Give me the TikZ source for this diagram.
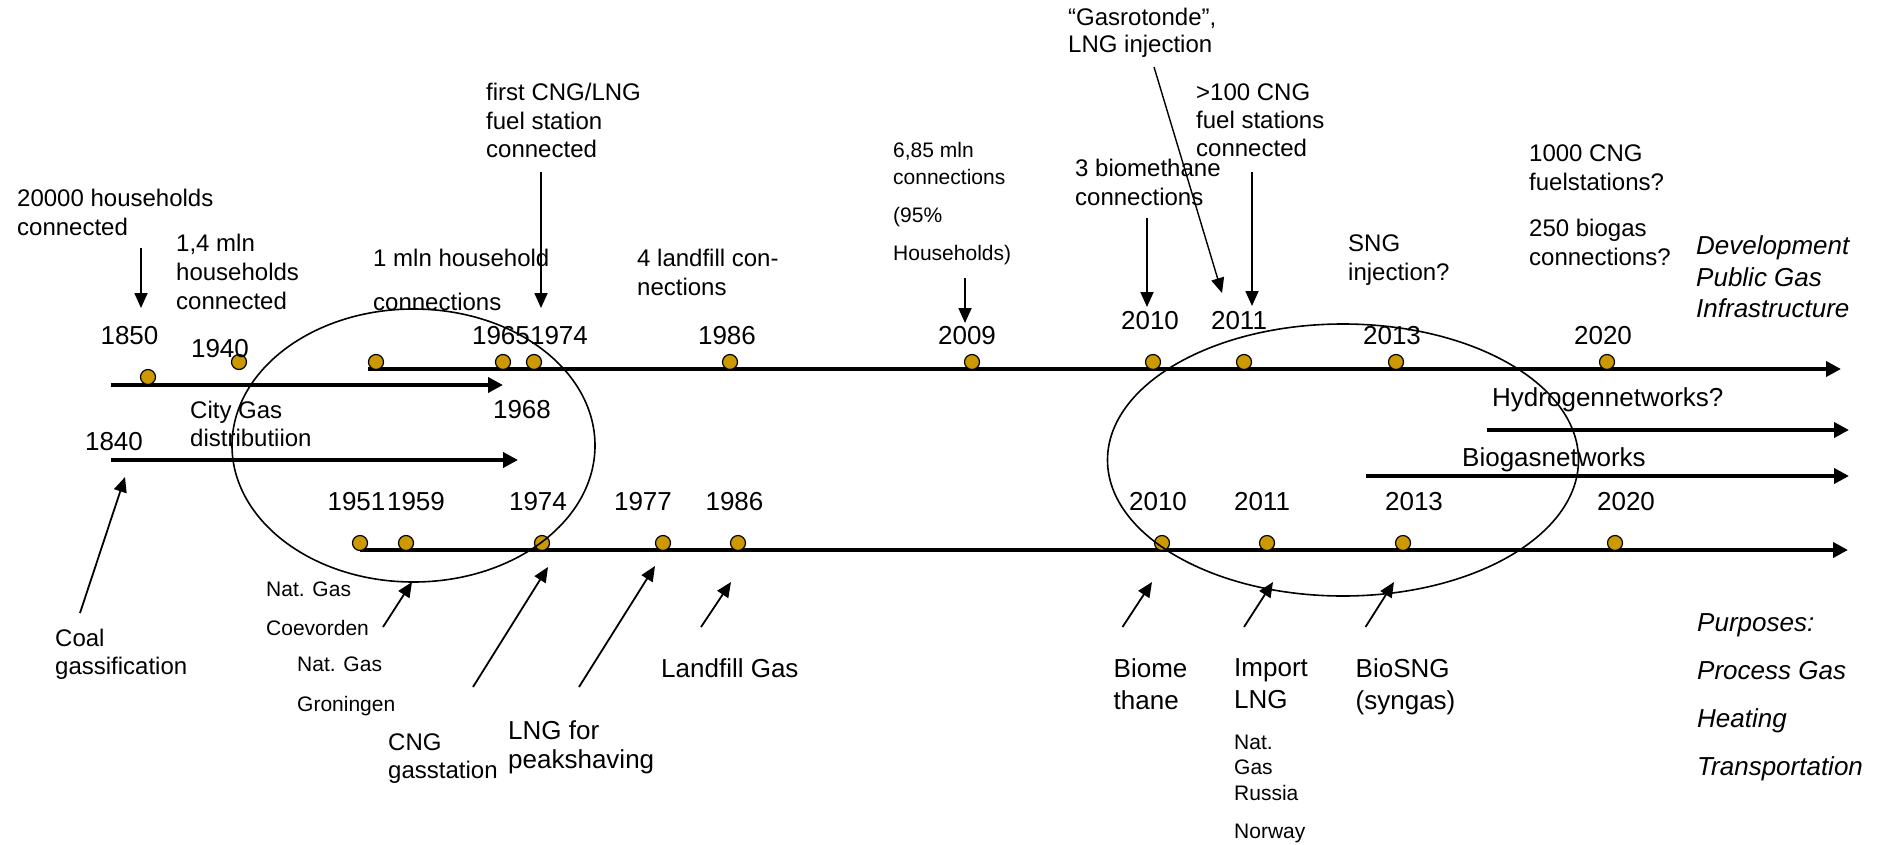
\documentclass[tikz,border=0pt]{standalone}
\usepackage{fontspec}
\setmainfont{Liberation Sans}
\usetikzlibrary{arrows.meta}
\definecolor{dotgold}{RGB}{204,153,0}
\begin{document}
\begin{tikzpicture}[x=1pt,y=-1pt,
  timeline/.style={line width=4pt,-{Triangle[length=15pt,width=15pt]}},
  pointer/.style={line width=1.8pt,-{Triangle[length=15pt,width=13pt]}},
  thinpointer/.style={line width=1.4pt,-{Triangle[length=15pt,width=13pt]}},
  yeardot/.style={circle,draw=black,line width=1.2pt,fill=dotgold,minimum size=15pt,inner sep=0pt},
  yr/.style={font=\fontsize{26}{31}\selectfont,inner sep=0pt},
  lbl/.style={inner sep=0pt,align=left,anchor=north west},
  fA/.style={font=\fontsize{24}{29}\selectfont},
  fB/.style={font=\fontsize{26}{32}\selectfont},
  fS/.style={font=\fontsize{21}{27}\selectfont},
  ring/.style={line width=1.6pt}]
\fill[white] (0,0) rectangle (1880,844);

% ---- timeline lines ----
\coordinate (topS) at (368,369);   \coordinate (topE) at (1841,369);
\coordinate (cityS) at (111,385);  \coordinate (cityE) at (503,385);
\coordinate (coalS) at (111,460);  \coordinate (coalE) at (518,460);
\coordinate (botS) at (360,550);   \coordinate (botE) at (1848,550);
\coordinate (hydS) at (1487,430);  \coordinate (hydE) at (1849,430);
\coordinate (bioS) at (1366,476);  \coordinate (bioE) at (1849,476);
\draw[timeline] (topS) -- (topE);
\draw[timeline] (cityS) -- (cityE);
\draw[timeline] (coalS) -- (coalE);
\draw[timeline] (botS) -- (botE);
\draw[timeline] (hydS) -- (hydE);
\draw[timeline] (bioS) -- (bioE);

% ---- dots ----
\node[yeardot] (d1850) at (148,377) {};
\node[yeardot] (d1940) at (239,362) {};
\node[yeardot] (dtop0) at (376,362) {};
\node[yeardot] (d1965) at (503,362) {};
\node[yeardot] (d1974a) at (534,362) {};
\node[yeardot] (d1986a) at (730,362) {};
\node[yeardot] (d2009) at (972,362) {};
\node[yeardot] (d2010a) at (1153,362) {};
\node[yeardot] (d2011a) at (1244,362) {};
\node[yeardot] (d2013a) at (1396,362) {};
\node[yeardot] (d2020a) at (1607,362) {};
\node[yeardot] (d1951) at (360,543) {};
\node[yeardot] (d1959) at (406,543) {};
\node[yeardot] (d1974b) at (542,543) {};
\node[yeardot] (d1977) at (663,543) {};
\node[yeardot] (d1986b) at (738,543) {};
\node[yeardot] (d2010b) at (1162,543) {};
\node[yeardot] (d2011b) at (1267,543) {};
\node[yeardot] (d2013b) at (1403,543) {};
\node[yeardot] (d2020b) at (1615,543) {};

% ---- years ----
\node[yr] (y1850) at (129.5,336) {1850};
\node[yr] (y1940) at (220,349) {1940};
\node[yr] (y1965) at (501,336) {1965};
\node[yr] (y1974a) at (559,336) {1974};
\node[yr] (y1986a) at (727,336) {1986};
\node[yr] (y2009) at (967,336) {2009};
\node[yr] (y2010a) at (1150,321) {2010};
\node[yr] (y2011a) at (1239,321) {2011};
\node[yr] (y2013a) at (1392,336) {2013};
\node[yr] (y2020a) at (1603,336) {2020};
\node[yr] (y1968) at (522,410) {1968};
\node[yr] (y1840) at (114,442) {1840};
\node[yr] (y1951) at (356.5,502) {1951};
\node[yr] (y1959) at (416,502) {1959};
\node[yr] (y1974b) at (538,502) {1974};
\node[yr] (y1977) at (643,502) {1977};
\node[yr] (y1986b) at (734.5,502) {1986};
\node[yr] (y2010b) at (1158,502) {2010};
\node[yr] (y2011b) at (1262,502) {2011};
\node[yr] (y2013b) at (1414,502) {2013};
\node[yr] (y2020b) at (1626,502) {2020};

% ---- upper labels ----
\node[lbl,fA] (l20000) at (17,189.4) {20000 households\\connected};
\node[lbl,fA] (l14) at (176,234.4) {1,4 mln\\households\\connected};
\node[lbl,font=\fontsize{24}{44}\selectfont] (l1mln) at (373,249.4) {1 mln household\\connections};
\node[lbl,font=\fontsize{24}{28.5}\selectfont] (lfirst) at (486,83.4) {first CNG/LNG\\fuel station\\connected};
\node[lbl,fA] (llandfill) at (637,249.4) {4 landfill con-\\nections};
\node[lbl,fS] (l685) at (893,142.4) {6,85 mln\\connections\\[11pt](95\%\\[11pt]Households)};
\node[lbl,fA] (lbiometh) at (1075,159.4) {3 biomethane\\connections};
\node[lbl,font=\fontsize{24}{27}\selectfont] (lgasrot) at (1068,8.4) {“Gasrotonde”,\\LNG injection};
\node[lbl,font=\fontsize{24}{28}\selectfont] (l100) at (1196,83.4) {>100 CNG\\fuel stations\\connected};
\node[lbl,fA] (lsng) at (1348,234.4) {SNG\\injection?};
\node[lbl,fA] (l1000) at (1529,144.4) {1000 CNG\\fuelstations?\\[17pt]250 biogas\\connections?};
\node[lbl,font=\fontsize{26}{31.5}\selectfont\itshape] (ldev) at (1696,235.6) {Development\\Public Gas\\Infrastructure};
\node[lbl,font=\fontsize{24}{28}\selectfont] (lcity) at (190,401.4) {City Gas\\distributiion};
\node[lbl,fB] (lhyd) at (1492,387.6) {Hydrogennetworks?};
\node[lbl,fB] (lbio) at (1462,447.6) {Biogasnetworks};

% ---- lower labels ----
\node[lbl,font=\fontsize{24}{28}\selectfont] (lcoal) at (55,628.4) {Coal\\gassification};
\node[lbl,font=\fontsize{21}{39}\selectfont] (lcoev) at (266,581.4) {Nat. Gas\\Coevorden};
\node[lbl,font=\fontsize{21}{40}\selectfont] (lgron) at (297,656.4) {Nat. Gas\\Groningen};
\node[lbl,font=\fontsize{24}{28}\selectfont] (lcng) at (388,733.4) {CNG\\gasstation};
\node[lbl,font=\fontsize{26}{29}\selectfont] (llng) at (508,720.6) {LNG for\\peakshaving};
\node[lbl,fB] (llfg) at (661,658.6) {Landfill Gas};
\node[lbl,fB] (lbiome) at (1113.5,658.6) {Biome\\thane};
\node[lbl,fB] (limport) at (1234,658.6) {Import\\LNG};
\node[lbl,fB] (lbiosng) at (1355.5,658.6) {BioSNG\\(syngas)};
\node[lbl,font=\fontsize{21}{25.5}\selectfont] (lrussia) at (1234,734.4) {Nat.\\Gas\\Russia\\[13pt]Norway};
\node[lbl,font=\fontsize{26}{48}\selectfont\itshape] (lpurp) at (1697,613.6) {Purposes:\\Process Gas\\Heating\\Transportation};

% ---- pointer arrows ----
\coordinate (p1s) at (141,248);   \coordinate (p1e) at (141,308);
\coordinate (p2s) at (541,172);   \coordinate (p2e) at (541,308);
\coordinate (p3s) at (965,278);   \coordinate (p3e) at (965,323);
\coordinate (p4s) at (1147,218);  \coordinate (p4e) at (1147,307);
\coordinate (p5s) at (1154,67);   \coordinate (p5e) at (1222,293);
\coordinate (p6s) at (1252,172);  \coordinate (p6e) at (1252,306);
\coordinate (p7s) at (80,613);    \coordinate (p7e) at (125,477);
\coordinate (p8s) at (383,627);   \coordinate (p8e) at (412,582);
\coordinate (p9s) at (473,687);   \coordinate (p9e) at (548,567);
\coordinate (p10s) at (579,687);  \coordinate (p10e) at (655,566);
\coordinate (p11s) at (701,627);  \coordinate (p11e) at (731,582);
\coordinate (p12s) at (1122.5,627); \coordinate (p12e) at (1152,582);
\coordinate (p13s) at (1244,627); \coordinate (p13e) at (1273,582);
\coordinate (p14s) at (1365.5,627); \coordinate (p14e) at (1394,582);
\draw[pointer] (p1s) -- (p1e);
\draw[pointer] (p2s) -- (p2e);
\draw[pointer] (p3s) -- (p3e);
\draw[pointer] (p4s) -- (p4e);
\draw[thinpointer] (p5s) -- (p5e);
\draw[pointer] (p6s) -- (p6e);
\draw[pointer] (p7s) -- (p7e);
\draw[pointer] (p8s) -- (p8e);
\draw[pointer] (p9s) -- (p9e);
\draw[pointer] (p10s) -- (p10e);
\draw[pointer] (p11s) -- (p11e);
\draw[pointer] (p12s) -- (p12e);
\draw[pointer] (p13s) -- (p13e);
\draw[pointer] (p14s) -- (p14e);

% ---- ellipses ----
\draw[ring] (413.5,445.5) ellipse [x radius=181.5, y radius=136.5];
\draw[ring] (1343,460) ellipse [x radius=235.5, y radius=136];
\end{tikzpicture}
\end{document}
